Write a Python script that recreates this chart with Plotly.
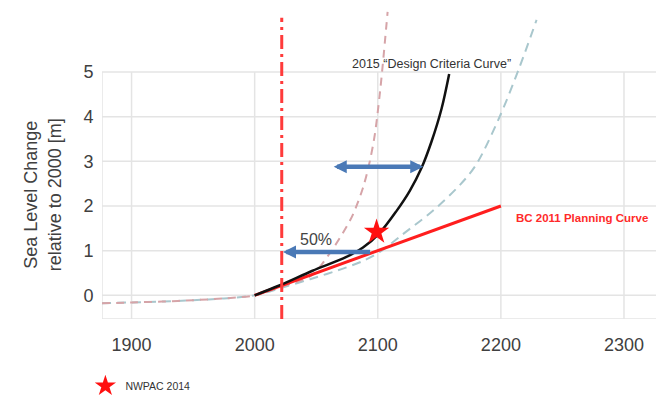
import plotly.graph_objects as go

# ---- data -------------------------------------------------------------
# observed / historical sea level (shared by both projection envelopes)
hist_years = [1876, 1900, 1925, 1950, 1975, 2000]
hist_level = [-0.18, -0.16, -0.14, -0.11, -0.07, 0.0]

# high-end projection (pink dashed)
high_years = [2000, 2022, 2035, 2047, 2061, 2074.5, 2080, 2088, 2093.5, 2097.6, 2101.6, 2104, 2108]
high_level = [0.0, 0.2, 0.31, 0.46, 0.94, 1.53, 1.82, 2.41, 3.0, 3.6, 4.5, 5.15, 6.35]

# lower projection (teal dashed)
low_years = [2000, 2022, 2045, 2074, 2088, 2102, 2120, 2145, 2167, 2180, 2199, 2215, 2229]
low_level = [0.0, 0.17, 0.36, 0.62, 0.77, 0.98, 1.36, 1.9, 2.48, 2.93, 4.0, 5.1, 6.17]

# 2015 design criteria curve
design_years = [2000, 2020, 2047, 2074.5, 2088, 2101.6, 2115, 2126, 2135.5, 2143.6, 2151.8, 2158]
design_level = [0.0, 0.22, 0.55, 0.86, 1.07, 1.4, 1.88, 2.34, 2.85, 3.44, 4.18, 4.96]

# BC 2011 planning curve
bc_years = [2000, 2050, 2100, 2200]
bc_level = [0.0, 0.5, 1.0, 2.0]

# NWPAC 2014 estimate
nwpac_year = [2099]
nwpac_level = [1.42]

# present-day marker line
now_year = 2022
now_span = [-0.53, 6.22]

# shift arrows (year from, year to, level)
wide_arrow = (2063, 2137, 2.88)
half_arrow = (2095, 2023, 0.97)

x_ticks = [1900, 2000, 2100, 2200, 2300]
y_ticks = [0, 1, 2, 3, 4, 5]
x_range = [1876, 2326]
y_range = [-0.531, 6.615]

# ---- figure -----------------------------------------------------------
font_family = "Liberation Sans, Arial, sans-serif"
grid_color = "#e4e4e4"

fig = go.Figure()

fig.add_trace(go.Scatter(
    x=hist_years + low_years[1:], y=hist_level + low_level[1:],
    mode="lines", line=dict(color="#a9c7cd", width=2, dash="9px,6px", shape="spline", smoothing=0.9),
    showlegend=False, hoverinfo="skip"))

fig.add_trace(go.Scatter(
    x=hist_years + high_years[1:], y=hist_level + high_level[1:],
    mode="lines", line=dict(color="#d6a4a8", width=2, dash="8px,6px", shape="spline", smoothing=0.9),
    showlegend=False, hoverinfo="skip"))

fig.add_trace(go.Scatter(
    x=bc_years, y=bc_level, mode="lines",
    line=dict(color="#ff1e1e", width=3),
    showlegend=False, hoverinfo="skip"))

fig.add_trace(go.Scatter(
    x=design_years, y=design_level, mode="lines",
    line=dict(color="#111111", width=2.5, shape="spline", smoothing=0.9),
    showlegend=False, hoverinfo="skip"))

fig.add_trace(go.Scatter(
    x=[now_year, now_year], y=now_span, mode="lines",
    line=dict(color="#ff3b3b", width=3, dash="14px,5px,3px,5px"),
    showlegend=False, hoverinfo="skip"))

fig.add_trace(go.Scatter(
    x=nwpac_year, y=nwpac_level, mode="markers", name="NWPAC 2014",
    marker=dict(symbol="star", size=19, color="#ff1010", line=dict(width=0))))

# grid drawn as shapes so it stops at the top tick
shapes = []
for xv in [x_range[0]] + x_ticks:
    shapes.append(dict(type="line", xref="x", yref="y", x0=xv, x1=xv,
                       y0=y_range[0], y1=y_ticks[-1],
                       line=dict(color=grid_color, width=1.5), layer="below"))
for yv in [y_range[0]] + y_ticks:
    shapes.append(dict(type="line", xref="x", yref="y", x0=x_range[0], x1=x_range[1],
                       y0=yv, y1=yv,
                       line=dict(color=grid_color, width=1.5), layer="below"))

arrow_color = "#4a79b6"
annotations = [
    dict(x=wide_arrow[1], y=wide_arrow[2], ax=wide_arrow[0], ay=wide_arrow[2],
         xref="x", yref="y", axref="x", ayref="y", text="", showarrow=True,
         arrowhead=2, arrowside="end+start", arrowwidth=4.5, arrowsize=0.58,
         arrowcolor=arrow_color, standoff=0, startstandoff=0),
    dict(x=half_arrow[1], y=half_arrow[2], ax=half_arrow[0], ay=half_arrow[2],
         xref="x", yref="y", axref="x", ayref="y", text="", showarrow=True,
         arrowhead=2, arrowwidth=4.5, arrowsize=0.58,
         arrowcolor=arrow_color, standoff=0),
    dict(x=2049.6, y=1.26, xref="x", yref="y", text="50%", showarrow=False,
         font=dict(family=font_family, size=16, color="#444444")),
    dict(x=2144, y=5.18, xref="x", yref="y", text="2015 \u201cDesign Criteria Curve\u201d",
         showarrow=False, font=dict(family=font_family, size=12.5, color="#333333")),
    dict(x=2211, y=1.73, xref="x", yref="y", xanchor="left",
         text="<b>BC 2011 Planning Curve</b>", showarrow=False,
         font=dict(family=font_family, size=11.5, color="#ff2a2a")),
    dict(x=-0.107, y=0.39, xref="paper", yref="paper", xanchor="center", yanchor="middle",
         textangle=-90, text="Sea Level Change<br>relative to 2000 [m]", showarrow=False,
         font=dict(family=font_family, size=18, color="#404040")),
]

fig.update_layout(
    width=656, height=401,
    margin=dict(l=102, r=0, t=0, b=78),
    paper_bgcolor="white", plot_bgcolor="white",
    font=dict(family=font_family, color="#404040"),
    shapes=shapes, annotations=annotations,
    showlegend=True,
    legend=dict(x=-0.03, y=-0.21, xanchor="left", yanchor="middle",
                bgcolor="rgba(0,0,0,0)", font=dict(size=10.5, color="#333333"),
                itemwidth=30),
)
fig.update_xaxes(range=x_range, tickvals=x_ticks, showgrid=False, zeroline=False,
                 showline=False, ticks="outside", ticklen=9, tickcolor="rgba(0,0,0,0)",
                 tickfont=dict(size=18, color="#404040"))
fig.update_yaxes(range=y_range, tickvals=y_ticks, showgrid=False, zeroline=False,
                 showline=False, ticks="outside", ticklen=4, tickcolor="rgba(0,0,0,0)",
                 tickfont=dict(size=18, color="#404040"))

fig.write_html("out.html")
